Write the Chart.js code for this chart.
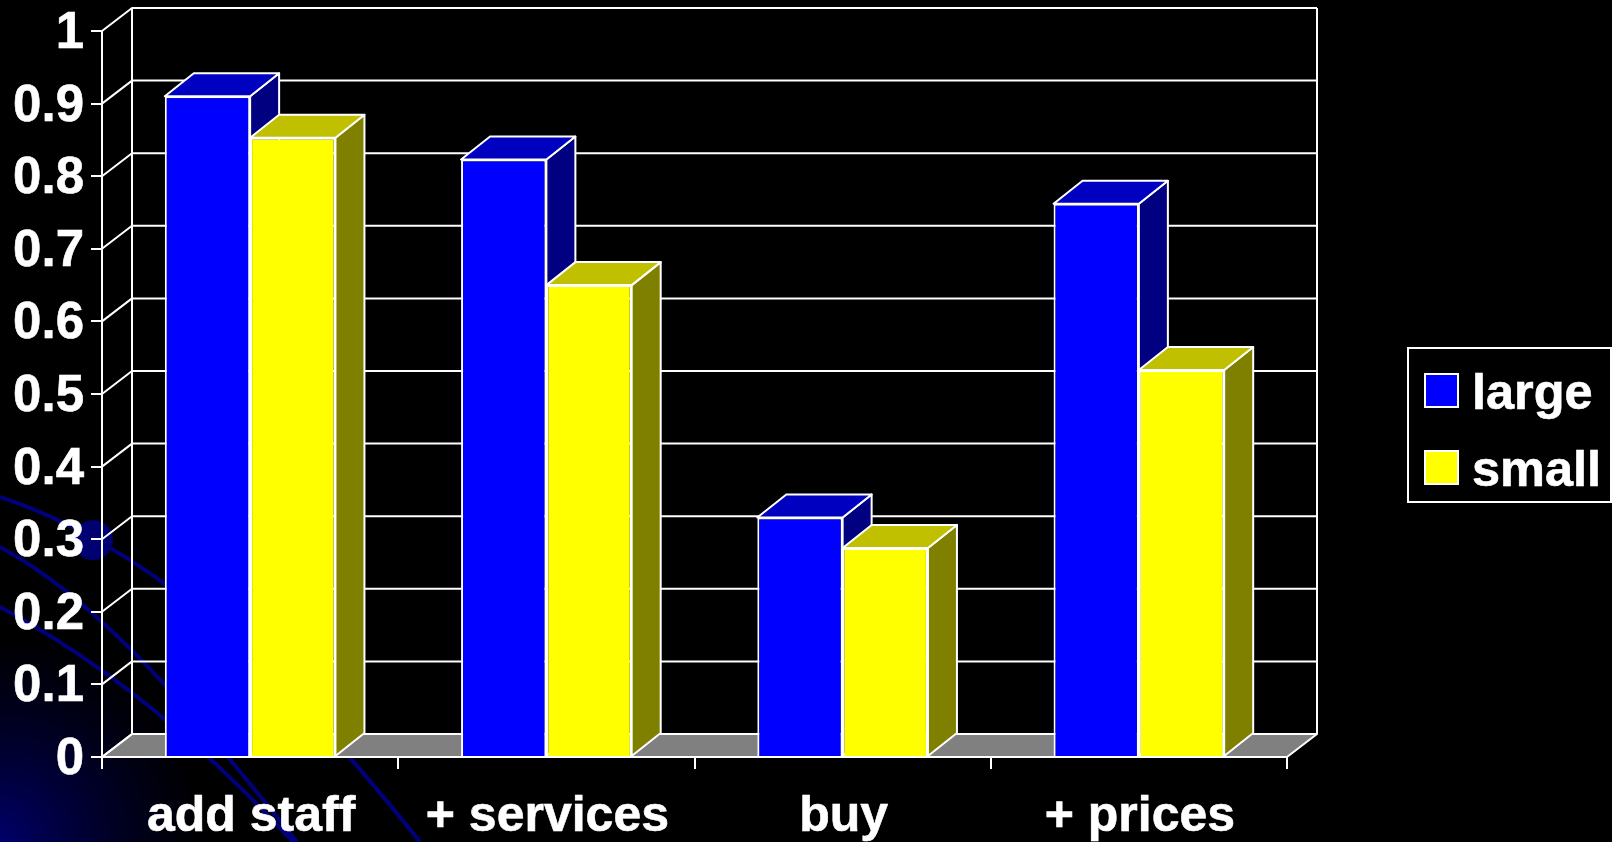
<!DOCTYPE html>
<html>
<head>
<meta charset="utf-8">
<title>large vs small</title>
<script src="https://cdn.jsdelivr.net/npm/chart.js@4"></script>
<style>
  html, body { margin: 0; background: #000; overflow: hidden; }
  canvas { display: block; }
</style>
</head>
<body>
<canvas id="bars" width="1612" height="842"></canvas>
<script>
const categories = ['add staff', '+ services', 'buy', '+ prices'];
const largeValues = [0.91, 0.823, 0.33, 0.762];
const smallValues = [0.853, 0.65, 0.288, 0.533];
const yTickLabels = ['0', '0.1', '0.2', '0.3', '0.4', '0.5', '0.6', '0.7', '0.8', '0.9', '1'];

const FONT = '"Liberation Sans", Arial, sans-serif';
const DEPTH_X = 29;
const DEPTH_Y = 23;
const WALL_X = 30;
const WALL_Y = 23;

function poly(ctx, pts, fill) {
  ctx.beginPath();
  pts.forEach((p, i) => i ? ctx.lineTo(p[0], p[1]) : ctx.moveTo(p[0], p[1]));
  ctx.closePath();
  if (fill) {
    ctx.fillStyle = fill;
    ctx.fill();
  }
  ctx.stroke();
}

// slide backdrop: black with a blue corner glow and thin arcs
const backdrop = {
  id: 'backdrop',
  beforeDraw(chart) {
    const ctx = chart.ctx;
    ctx.save();
    ctx.fillStyle = '#000';
    ctx.fillRect(0, 0, chart.width, chart.height);
    const glow = ctx.createRadialGradient(0, 842, 0, 0, 842, 210);
    glow.addColorStop(0, '#00006a');
    glow.addColorStop(1, 'rgba(0,0,60,0)');
    ctx.fillStyle = glow;
    ctx.fillRect(0, 600, 260, 242);

    ctx.strokeStyle = '#00007c';
    ctx.lineWidth = 4;
    const arcs = [
      [[0, 497], [130, 540], [260, 640], [420, 842]],
      [[0, 547], [100, 600], [200, 720], [297, 842]],
      [[0, 607], [90, 655], [190, 730], [293, 842]]
    ];
    arcs.forEach(a => {
      ctx.beginPath();
      ctx.moveTo(a[0][0], a[0][1]);
      ctx.bezierCurveTo(a[1][0], a[1][1], a[2][0], a[2][1], a[3][0], a[3][1]);
      ctx.stroke();
    });
    ctx.fillStyle = '#000070';
    ctx.beginPath();
    ctx.arc(93, 540, 20, 0, Math.PI * 2);
    ctx.fill();
    ctx.restore();
  }
};

// back wall, side wall and floor, then the extruded faces of each bar
const box3d = {
  id: 'box3d',
  beforeDatasetsDraw(chart) {
    const { ctx, chartArea: area, scales } = chart;
    const y = scales.y;
    ctx.save();
    ctx.strokeStyle = '#fff';
    ctx.lineWidth = 2;
    ctx.lineJoin = 'round';

    poly(ctx, [
      [area.left, area.bottom],
      [area.left + WALL_X, area.bottom - WALL_Y],
      [area.right + WALL_X, area.bottom - WALL_Y],
      [area.right, area.bottom]
    ], '#808080');

    yTickLabels.forEach((t, i) => {
      const py = y.getPixelForTick(i);
      ctx.beginPath();
      ctx.moveTo(area.left, py);
      ctx.lineTo(area.left + WALL_X, py - WALL_Y);
      ctx.lineTo(area.right + WALL_X, py - WALL_Y);
      ctx.stroke();
    });

    ctx.beginPath();
    ctx.moveTo(area.left + WALL_X, area.top - WALL_Y);
    ctx.lineTo(area.left + WALL_X, area.bottom - WALL_Y);
    ctx.moveTo(area.right + WALL_X, area.top - WALL_Y);
    ctx.lineTo(area.right + WALL_X, area.bottom - WALL_Y);
    ctx.stroke();

    chart.data.datasets.forEach((ds, d) => {
      chart.getDatasetMeta(d).data.forEach(bar => {
        const left = bar.x - bar.width / 2;
        const right = bar.x + bar.width / 2;
        poly(ctx, [
          [right, bar.y],
          [right + DEPTH_X, bar.y - DEPTH_Y],
          [right + DEPTH_X, bar.base - DEPTH_Y],
          [right, bar.base]
        ], ds.sideColor);
        poly(ctx, [
          [left, bar.y],
          [left + DEPTH_X, bar.y - DEPTH_Y],
          [right + DEPTH_X, bar.y - DEPTH_Y],
          [right, bar.y]
        ], ds.topColor);
      });
    });
    ctx.restore();
  }
};

// framed key, runs to the right edge of the page
const sideKey = {
  id: 'sideKey',
  afterDraw(chart) {
    const ctx = chart.ctx;
    ctx.save();
    ctx.strokeStyle = '#fff';
    ctx.lineWidth = 2;
    ctx.strokeRect(1408, 348, 203, 154);
    ctx.font = 'bold 50.5px ' + FONT;
    ctx.textBaseline = 'alphabetic';
    chart.data.datasets.forEach((ds, i) => {
      const top = 374 + i * 77;
      ctx.fillStyle = ds.backgroundColor;
      ctx.fillRect(1425, top, 33, 33);
      ctx.lineWidth = 2;
      ctx.strokeRect(1425, top, 33, 33);
      ctx.fillStyle = '#fff';
      ctx.lineWidth = 0.6;
      ctx.fillText(ds.label, 1472, 409 + i * 77);
      ctx.strokeText(ds.label, 1472, 409 + i * 77);
    });
    ctx.restore();
  }
};

new Chart(document.getElementById('bars'), {
  type: 'bar',
  data: {
    labels: categories,
    datasets: [
      {
        label: 'large',
        data: largeValues,
        backgroundColor: '#0000ff',
        topColor: '#0000c0',
        sideColor: '#000080',
        borderColor: '#fff',
        borderWidth: 2
      },
      {
        label: 'small',
        data: smallValues,
        backgroundColor: '#ffff00',
        topColor: '#c0c000',
        sideColor: '#808000',
        borderColor: '#fff',
        borderWidth: 2
      }
    ]
  },
  options: {
    responsive: false,
    animation: false,
    layout: { padding: { top: 31, right: 325 } },
    datasets: { bar: { barPercentage: 1, categoryPercentage: 0.576 } },
    plugins: {
      legend: { display: false },
      tooltip: { enabled: false }
    },
    scales: {
      x: {
        afterFit(scale) { scale.height = 85; },
        grid: { drawOnChartArea: false, color: '#fff', lineWidth: 2, tickLength: 12 },
        border: { color: '#fff', width: 2 },
        ticks: {
          color: '#fff',
          font: { family: FONT, size: 50, weight: 'bold' },
          textStrokeColor: '#fff',
          textStrokeWidth: 0.6,
          padding: 18,
          labelOffset: 1,
          autoSkip: false,
          maxRotation: 0
        }
      },
      y: {
        min: 0,
        max: 1,
        afterFit(scale) {
          scale.width = 102;
          // labels may overhang the plot, the top padding alone sets its height
          scale.paddingTop = 0;
          scale.paddingBottom = 0;
        },
        grid: { drawOnChartArea: false, color: '#fff', lineWidth: 2, tickLength: 11 },
        border: { color: '#fff', width: 2 },
        ticks: {
          stepSize: 0.1,
          color: '#fff',
          font: { family: FONT, size: 51, weight: 'bold' },
          textStrokeColor: '#fff',
          textStrokeWidth: 0.6,
          padding: 7,
          labelOffset: 3,
          autoSkip: false,
          callback: (v, i) => yTickLabels[i]
        }
      }
    }
  },
  plugins: [backdrop, box3d, sideKey]
});
</script>
</body>
</html>
